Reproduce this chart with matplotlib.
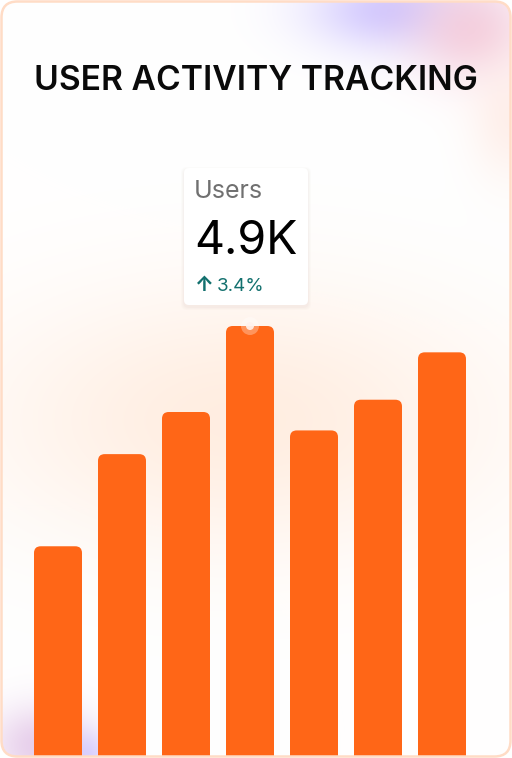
import numpy as np
import matplotlib.pyplot as plt
from matplotlib.patches import FancyBboxPatch, Circle

plt.rcParams['font.family'] = ['Inter', 'DejaVu Sans']

# data (thousands of users per day)
days = ["Mon", "Tue", "Wed", "Thu", "Fri", "Sat", "Sun"]
users_k = [2.39, 3.44, 3.92, 4.90, 3.71, 4.06, 4.60]
highlight = 3
title = "USER ACTIVITY TRACKING"
tip_label = "Users"
tip_value = "4.9K"
tip_change = "3.4%"

BAR = "#FF6617"
TEAL = "#12706E"
W, H = 512, 758

fig = plt.figure(figsize=(W / 100, H / 100), dpi=100)
fig.patch.set_facecolor("white")

# background layer in pixel coords
bg = fig.add_axes([0, 0, 1, 1])
bg.set_xlim(0, W)
bg.set_ylim(H, 0)
bg.axis("off")

card = FancyBboxPatch((1.5, 1.5), W - 3, H - 3,
                      boxstyle="round,pad=0,rounding_size=16",
                      facecolor="none", edgecolor="none")
bg.add_patch(card)

# soft glow blobs
yy, xx = np.mgrid[0:H, 0:W]
img = np.ones((H, W, 3))


def blend(img, cx, cy, sx, sy, color, a):
    alpha = a * np.exp(-(((xx - cx) / sx) ** 2 + ((yy - cy) / sy) ** 2))
    c = np.array(color) / 255.0
    return img * (1 - alpha[..., None]) + c * alpha[..., None]


img = blend(img, 240, 420, 250, 130, (255, 226, 205), 0.6)
img = blend(img, 390, 10, 80, 40, (205, 195, 255), 0.9)
img = blend(img, 470, 30, 60, 50, (245, 200, 215), 0.8)
img = blend(img, 510, 120, 40, 60, (255, 225, 215), 0.5)
img = blend(img, 40, 745, 50, 40, (225, 195, 230), 0.8)
img = blend(img, 85, 755, 25, 25, (210, 200, 255), 0.8)
im = bg.imshow(img, extent=(0, W, H, 0), zorder=2, aspect="auto")
im.set_clip_path(card)
bg.set_xlim(0, W)
bg.set_ylim(H, 0)

# bar layer
k = 430 / users_k[highlight]          # px per thousand
ymax = 5.5
ax = fig.add_axes([0, 2 / H, 1, ymax * k / H])
ax.set_xlim(-58 / 64, (W - 58) / 64)
ax.set_ylim(0, ymax)
ax.axis("off")
ax.patch.set_alpha(0)

rects = ax.bar(range(len(days)), users_k, width=0.75, color=BAR)
for r in rects:
    x, w, h = r.get_x(), r.get_width(), r.get_height()
    r.remove()
    ax.add_patch(FancyBboxPatch((x, -0.3), w, h + 0.3,
                                boxstyle="round,pad=0,rounding_size=0.105",
                                mutation_aspect=64 / k,
                                facecolor=BAR, edgecolor="none"))

# overlay layer
ov = fig.add_axes([0, 0, 1, 1])
ov.set_xlim(0, W)
ov.set_ylim(H, 0)
ov.axis("off")
ov.patch.set_alpha(0)

ov.add_patch(FancyBboxPatch((1.5, 1.5), W - 3, H - 3,
                            boxstyle="round,pad=0,rounding_size=16",
                            facecolor="none", edgecolor="#FFDCC6", lw=1.8))

ov.text(W / 2, 90, title, ha="center", va="baseline",
        fontsize=24.2, fontweight="semibold", color="#0A0A0A")

# tooltip anchored on highlighted bar
fig.canvas.draw()
cx, cy = ax.transData.transform((highlight, users_k[highlight]))
cy = H - cy
bx, by, bw, bh = cx - 66, cy - 158, 124, 137
for i, a in enumerate([0.025, 0.02, 0.015]):
    ov.add_patch(FancyBboxPatch((bx - 1 - i, by + 1 - i), bw + 2 + 2 * i, bh + 2 + 2 * i,
                                boxstyle="round,pad=0,rounding_size=6",
                                facecolor="#7a4a30", edgecolor="none", alpha=a))
ov.add_patch(FancyBboxPatch((bx, by), bw, bh,
                            boxstyle="round,pad=0,rounding_size=5",
                            facecolor="white", edgecolor="none"))
ov.text(bx + 10, by + 30, tip_label, ha="left", va="baseline",
        fontsize=18, color="#707070")
ov.text(bx + 10, by + 86, tip_value, ha="left", va="baseline",
        fontsize=33.5, color="#000000")
ov.text(bx + 11, by + 123, "\u2191", ha="left", va="baseline",
        fontsize=15, fontweight="bold", color=TEAL)
ov.text(bx + 33, by + 123, tip_change, ha="left", va="baseline",
        fontsize=13.5, color=TEAL)

ov.add_patch(Circle((cx, cy), 9, facecolor="white", alpha=0.3, edgecolor="none"))
ov.add_patch(Circle((cx, cy), 4, facecolor="#FFF3EE", alpha=0.9, edgecolor="none"))

fig.savefig("out.png", dpi=100, facecolor="white")
